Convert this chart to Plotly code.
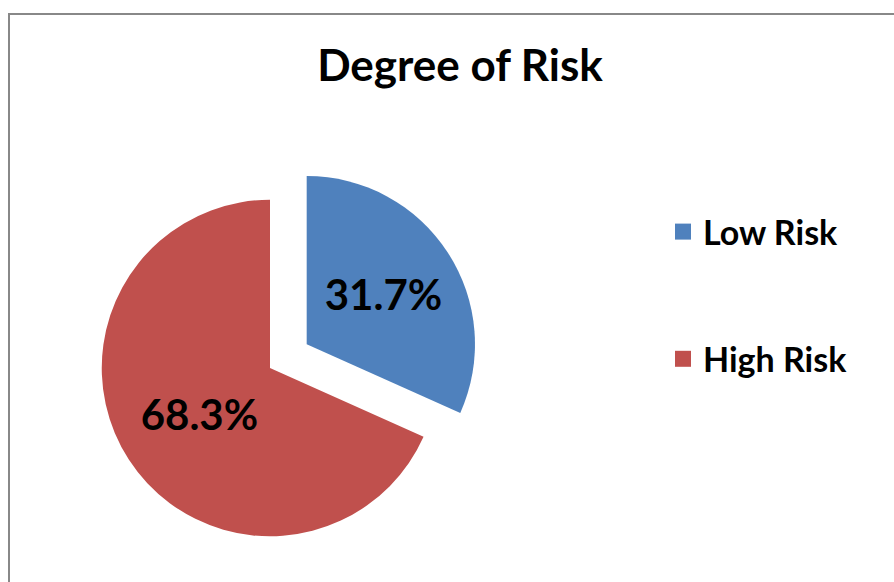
import plotly.graph_objects as go

labels = ["Low Risk", "High Risk"]
values = [31.7, 68.3]
colors = ["#4F81BD", "#C0504D"]
pulls = [0.26, 0.0]

W, H = 894, 582
FONT = "Lato"

fig = go.Figure()
fig.add_trace(go.Pie(
    labels=labels, values=values, sort=False, direction="clockwise", rotation=0,
    pull=pulls, marker=dict(colors=colors, line=dict(width=0)),
    texttemplate="%{percent:.1%}", textposition="inside",
    insidetextorientation="horizontal",
    textfont=dict(family=FONT, size=42, color="black", weight="bold"),
    showlegend=False, hoverinfo="label+percent",
    domain=dict(x=[58 / W, 482 / W], y=[2 / H, 426 / H]),
))
for i, (lab, col) in enumerate(zip(labels, colors)):
    fig.add_trace(go.Scatter(
        x=[None], y=[None], mode="markers", name=lab, legendgroup=lab,
        marker=dict(symbol="square", size=16, color=col),
    ))

fig.update_layout(
    width=W, height=H, margin=dict(l=0, r=0, t=0, b=0),
    paper_bgcolor="white", plot_bgcolor="white",
    xaxis=dict(visible=False), yaxis=dict(visible=False),
    title=dict(text="<b>Degree of Risk</b>", x=460 / W, xanchor="center",
               y=1 - 66 / H, yanchor="middle",
               font=dict(family=FONT, size=44, color="black")),
    legend=dict(x=663 / W, xanchor="left", y=1 - 203 / H, yanchor="top",
                font=dict(family=FONT, size=34, color="black", weight="bold"),
                tracegroupgap=80, bgcolor="rgba(0,0,0,0)"),
    shapes=[dict(type="rect", xref="paper", yref="paper",
                 x0=9 / W, x1=1.05, y0=-0.05, y1=1 - 14 / H,
                 line=dict(color="#888888", width=2), layer="below")],
)
fig.write_html("out.html")
